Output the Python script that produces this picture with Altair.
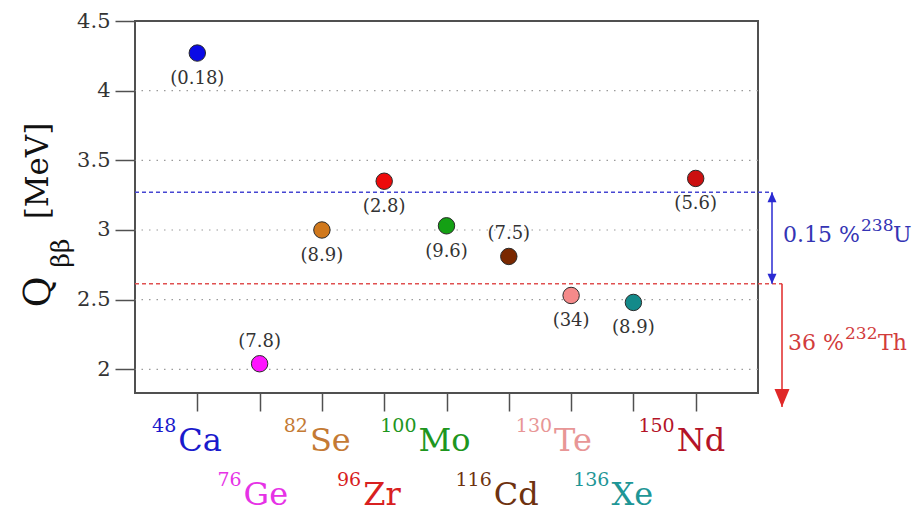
import altair as alt
import pandas as pd

# Double-beta-decay candidate isotopes
symbols = ["Ca", "Ge", "Se", "Zr", "Mo", "Cd", "Te", "Xe", "Nd"]
mass_numbers = ["48", "76", "82", "96", "100", "116", "130", "136", "150"]
q_values = [4.27, 2.04, 3.00, 3.35, 3.03, 2.81, 2.53, 2.48, 3.37]   # MeV
abundances = [0.18, 7.8, 8.9, 2.8, 9.6, 7.5, 34, 8.9, 5.6]          # natural abundance, %
label_side = ["below", "above", "below", "below", "below", "above", "below", "below", "below"]
label_row = [1, 2, 1, 2, 1, 2, 1, 2, 1]

# Background gamma lines (MeV): 214Bi end point (238U chain) and 208Tl line (232Th chain)
u_chain_line = 3.27
th_chain_line = 2.615
th_arrow_tip = 1.73

grid_values = [2, 2.5, 3, 3.5, 4]
tick_values = [2, 2.5, 3, 3.5, 4, 4.5]

# Styling
dot_colors = ["#0a0ae6", "#ff14ff", "#d0781c", "#ee0a0a", "#14a014",
              "#7a2800", "#f58a8a", "#138a8a", "#cc1010"]
ink_colors = ["#1a1acc", "#e632e6", "#c47a34", "#d82020", "#1e961e",
              "#6e3210", "#e89696", "#1e9696", "#b41428"]
label_shift_px = [-20, -17, -13, -22, -29, -16, -18, -23, -20]

PLOT_W, PLOT_H = 623, 372
PX_PER_UNIT = PLOT_W / 10
SERIF = "DejaVu Serif"
FRAME = "#505050"
BLUE = "#3434b4"
RED = "#d23c3c"

df = pd.DataFrame({
    "pos": list(range(1, len(symbols) + 1)),
    "symbol": symbols,
    "mass": mass_numbers,
    "q": q_values,
    "abund": abundances,
    "side": label_side,
    "row": label_row,
    "dot": dot_colors,
    "ink": ink_colors,
    "shift": label_shift_px,
})

x_scale = alt.Scale(domain=[0, 10], nice=False, zero=False)
y_scale = alt.Scale(domain=[1.83, 4.5], nice=False, zero=False)
x_axis = alt.Axis(values=list(range(1, 10)), labels=False, title=None, domain=False,
                  grid=False, tickSize=18, tickColor=FRAME, tickWidth=1.5)
y_axis = alt.Axis(values=tick_values, format="~g", title=None, domain=False, grid=False,
                  tickSize=20, tickColor=FRAME, tickWidth=1.5, labelFont=SERIF,
                  labelFontSize=21, labelColor="#333333", labelPadding=5)


def X(field):
    return alt.X(field, scale=x_scale, axis=x_axis)


def Y(field):
    return alt.Y(field, scale=y_scale, axis=y_axis)


# dotted horizontal grid
grid = alt.Chart(pd.DataFrame({"q": grid_values})).mark_rule(
    color="#9a9a9a", strokeWidth=1.2, strokeDash=[1.5, 6]
).encode(y=Y("q:Q"))

# background threshold lines, running out to their arrows
u_line = alt.Chart(pd.DataFrame({"q": [u_chain_line]})).mark_rule(
    color="#4646d2", strokeWidth=1.5, strokeDash=[4, 3]
).encode(y=Y("q:Q"), x=alt.value(0), x2=alt.value(637))
th_line = alt.Chart(pd.DataFrame({"q": [th_chain_line]})).mark_rule(
    color="#e05050", strokeWidth=1.5, strokeDash=[4, 3]
).encode(y=Y("q:Q"), x=alt.value(0), x2=alt.value(647))

u_shaft = alt.Chart(pd.DataFrame({"q": [u_chain_line], "q2": [th_chain_line]})).mark_rule(
    color="#2a2ad2", strokeWidth=1.5
).encode(x=alt.value(637), y=Y("q:Q"), y2="q2:Q")
th_shaft = alt.Chart(pd.DataFrame({"q": [th_chain_line], "q2": [th_arrow_tip]})).mark_rule(
    color="#e02828", strokeWidth=1.5
).encode(x=alt.value(647), y=Y("q:Q"), y2="q2:Q")

HEAD_UP = "M0,0L-0.45,1L0.45,1Z"
HEAD_DOWN = "M0,0L-0.45,-1L0.45,-1Z"
HEAD_DOWN_BIG = "M0,0L-0.75,-1.8L0.75,-1.8Z"


def head(value, x, shape, color):
    return alt.Chart(pd.DataFrame({"q": [value]})).mark_point(
        shape=shape, size=400, filled=True, color=color, opacity=1, strokeWidth=0
    ).encode(x=alt.value(x), y=Y("q:Q"))


heads = [
    head(u_chain_line, 637, HEAD_UP, "#2a2ad2"),
    head(th_chain_line, 637, HEAD_DOWN, "#2a2ad2"),
    head(th_arrow_tip, 647, HEAD_DOWN_BIG, "#e02828"),
]

# isotope points
points = alt.Chart(df).mark_circle(
    size=270, opacity=1, stroke="#2a2a2a", strokeWidth=1
).encode(x=X("pos:Q"), y=Y("q:Q"), color=alt.Color("dot:N", scale=None))

# abundance labels
base_lbl = alt.Chart(df).transform_calculate(txt="'(' + datum.abund + ')'")
lbl_below = base_lbl.transform_filter(alt.datum.side == "below").mark_text(
    font=SERIF, fontSize=18, color="#333333", baseline="alphabetic", dy=31
).encode(x=X("pos:Q"), y=Y("q:Q"), text="txt:N")
lbl_above = base_lbl.transform_filter(alt.datum.side == "above").mark_text(
    font=SERIF, fontSize=18, color="#333333", baseline="alphabetic", dy=-17
).encode(x=X("pos:Q"), y=Y("q:Q"), text="txt:N")

# isotope names below the axis: mass number as superscript, element symbol
iso_layers = []
row_y = {1: (430, 411), 2: (484, 465)}
for row, (sym_y, sup_y) in row_y.items():
    base = alt.Chart(df).transform_filter(alt.datum.row == row).transform_calculate(
        xl=f"datum.pos + datum.shift / {PX_PER_UNIT}"
    )
    iso_layers.append(base.mark_text(
        font=SERIF, fontSize=32, align="left", baseline="alphabetic", dx=1
    ).encode(x=X("xl:Q"), y=alt.value(sym_y), text="symbol:N",
             color=alt.Color("ink:N", scale=None)))
    iso_layers.append(base.mark_text(
        font=SERIF, fontSize=19, align="right", baseline="alphabetic", dx=-1
    ).encode(x=X("xl:Q"), y=alt.value(sup_y), text="mass:N",
             color=alt.Color("ink:N", scale=None)))


def free_text(t, x, y, size, color, align="left", angle=0):
    props = dict(font=SERIF, fontSize=size, color=color, align=align, baseline="alphabetic")
    if angle:
        props["angle"] = angle
    return alt.Chart(pd.DataFrame({"t": [t]})).mark_text(**props).encode(
        text="t:N", x=alt.value(x), y=alt.value(y))


annotations = [
    free_text("0.15 %", 648, 221, 22, BLUE),
    free_text("238", 726, 210, 17, BLUE),
    free_text("U", 758, 221, 22, BLUE),
    free_text("36 %", 653, 329, 22, RED),
    free_text("232", 710, 318, 17, RED),
    free_text("Th", 743, 329, 22, RED),
    # rotated y-axis title  Q_ββ [MeV]
    free_text("Q", -85, 271, 38, "#111111", align="center", angle=270),
    free_text("ββ", -66, 232, 25, "#111111", align="center", angle=270),
    free_text("[MeV]", -87, 150, 31, "#111111", align="center", angle=270),
]

chart = alt.layer(
    grid, u_line, th_line, u_shaft, th_shaft, *heads,
    points, lbl_below, lbl_above, *iso_layers, *annotations
).properties(
    width=PLOT_W,
    height=PLOT_H,
    padding={"left": 135, "top": 21, "right": 160, "bottom": 120},
    autosize=alt.AutoSizeParams(type="none"),
    background="white",
).configure(
    font=SERIF
).configure_view(
    stroke=FRAME, strokeWidth=2
)

chart.save("out.html", embed_options={"renderer": "svg", "actions": False})
